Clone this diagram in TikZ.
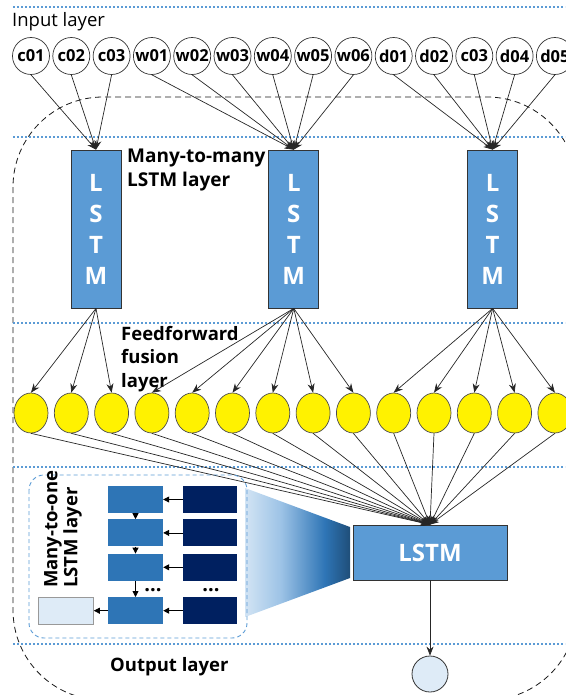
\documentclass[tikz,border=0pt]{standalone}
\usepackage{fontspec}
\setmainfont{Open Sans}
\usetikzlibrary{positioning, arrows.meta, shapes.geometric}
\definecolor{lstmblue}{HTML}{5B9BD5}
\definecolor{cellblue}{HTML}{2E75B6}
\definecolor{inputnavy}{HTML}{002060}
\definecolor{paleblue}{HTML}{DEEBF7}
\definecolor{sepblue}{HTML}{5B9BD5}
\definecolor{funnelA}{HTML}{D2E4F4}
\definecolor{funnelB}{HTML}{9DC3E6}
\definecolor{funnelC}{HTML}{2E75B6}
\definecolor{funnelD}{HTML}{1F4E79}
\pgfdeclarehorizontalshading{funnel}{100bp}{color(0bp)=(funnelA); color(25bp)=(funnelA); color(42bp)=(funnelB); color(63bp)=(funnelC); color(75bp)=(funnelD); color(100bp)=(funnelD)}

\begin{document}
\begin{tikzpicture}[x=1pt, y=-1pt,
    sep/.style={sepblue, line width=1.6pt, dash pattern=on 1.6pt off 2.4pt},
    word/.style={circle, draw=black!80, line width=0.7pt, minimum size=37pt, inner sep=0pt, font=\fontsize{16.5}{16.5}\selectfont\bfseries},
    lstmv/.style={draw=black!80, line width=0.8pt, fill=lstmblue, minimum width=50pt, minimum height=158pt, text=white, align=center, font=\fontsize{24}{31}\selectfont\bfseries},
    fuse/.style={ellipse, draw=black!70, line width=0.7pt, fill=yellow, minimum width=34pt, minimum height=40pt, inner sep=0pt},
    link/.style={black!85, line width=0.7pt, -{Stealth[length=9pt,width=7pt]}},
    cell/.style={fill=cellblue, minimum width=55pt, minimum height=27pt, inner sep=0pt},
    xin/.style={fill=inputnavy, minimum width=54pt, minimum height=27pt, inner sep=0pt},
    small/.style={black, line width=0.8pt, -{Triangle[length=6pt,width=6pt]}},
    lbl/.style={font=\fontsize{18.5}{23.5}\selectfont\bfseries, align=left, inner sep=0pt},
    ell/.style={font=\fontsize{20}{20}\selectfont\bfseries, inner sep=0pt, anchor=base}
  ]
\useasboundingbox (0,0) rectangle (565,695);
\draw[black!90, line width=0.8pt, dash pattern=on 6pt off 4pt, rounded corners=90pt] (13,97) rectangle (577,700);
\foreach \y in {7,137,323,467,644}
  \draw[sep] (13,\y) -- (565,\y);

\node[anchor=west, inner sep=0pt, font=\fontsize{18.5}{22}\selectfont] (inlayer) at (12,22) {Input layer};
\foreach \t [count=\i] in {c01,c02,c03,w01,w02,w03,w04,w05,w06,d01,d02,c03,d04,d05}
  \node[word] (in\i) at ({31+40.3*(\i-1)},56) {\t};

\node[lstmv] (lstm1) at (96,229) {L\\S\\T\\M};
\node[lstmv, right=147pt of lstm1] (lstm2) {L\\S\\T\\M};
\node[lstmv, right=148pt of lstm2] (lstm3) {L\\S\\T\\M};
\node[lbl, font=\fontsize{19}{24}\selectfont\bfseries, anchor=north west] (m2m) at (127,148.5) {Many-to-many\\LSTM layer};

\foreach \i in {1,2,3} \draw[link] (in\i.south) -- (lstm1.north);
\foreach \i in {4,...,9} \draw[link] (in\i.south) -- (lstm2.north);
\foreach \i in {10,...,14} \draw[link] (in\i.south) -- (lstm3.north);

\foreach \i in {1,...,14}
  \node[fuse] (ff\i) at ({31+40.3*(\i-1)},413) {};
\node[lbl, anchor=north west] (fflayer) at (121,326) {Feedforward\\fusion\\layer};

\foreach \i in {1,2,3} \draw[link] (lstm1.south) -- (ff\i.north);
\foreach \i in {4,...,9} \draw[link] (lstm2.south) -- (ff\i.north);
\foreach \i in {10,...,14} \draw[link] (lstm3.south) -- (ff\i.north);

\node[draw=black!80, line width=0.8pt, fill=lstmblue, minimum width=154pt, minimum height=55pt, text=white, font=\fontsize{24}{24}\selectfont\bfseries] (lstmo) at (430,552.5) {LSTM};
\foreach \i in {1,...,14} \draw[link] (ff\i.south) -- (lstmo.north);

\node[circle, draw=black!80, line width=0.8pt, fill=paleblue, minimum size=36pt] (out) at (430,674) {};
\draw[link] (lstmo) -- (out);
\node[lbl, anchor=west] (outlayer) at (110,667) {Output layer};

\shade[shading=funnel] (245,488) -- (350,527) -- (350,578) -- (245,617) -- cycle;
\draw[sepblue, line width=0.9pt, dash pattern=on 4pt off 3pt, rounded corners=15pt] (29,475) rectangle (247,638);

\node[cell] (h1) at (135.5,499.5) {};
\node[cell, below=6pt of h1] (h2) {};
\node[cell, below=7pt of h2] (h3) {};
\node[cell, below=16pt of h3] (h4) {};
\foreach \k in {1,...,4}
  \node[xin, right=20pt of h\k] (x\k) {};
\node[cell, fill=paleblue, draw=black!40, line width=0.7pt, left=14pt of h4] (hy) {};

\foreach \k in {1,...,4} \draw[small] (x\k) -- (h\k);
\foreach \a/\b in {1/2,2/3,3/4} \draw[small] (h\a) -- (h\b);
\draw[small] (h4) -- (hy);
\node[ell] (hdots) at (153,591) {...};
\node[ell] (xdots) at (211,591) {...};

\node[lbl, font=\fontsize{18.5}{20}\selectfont\bfseries, rotate=90, anchor=west] (m2o) at (63,588) {Many-to-one\\LSTM layer};
\end{tikzpicture}
\end{document}
